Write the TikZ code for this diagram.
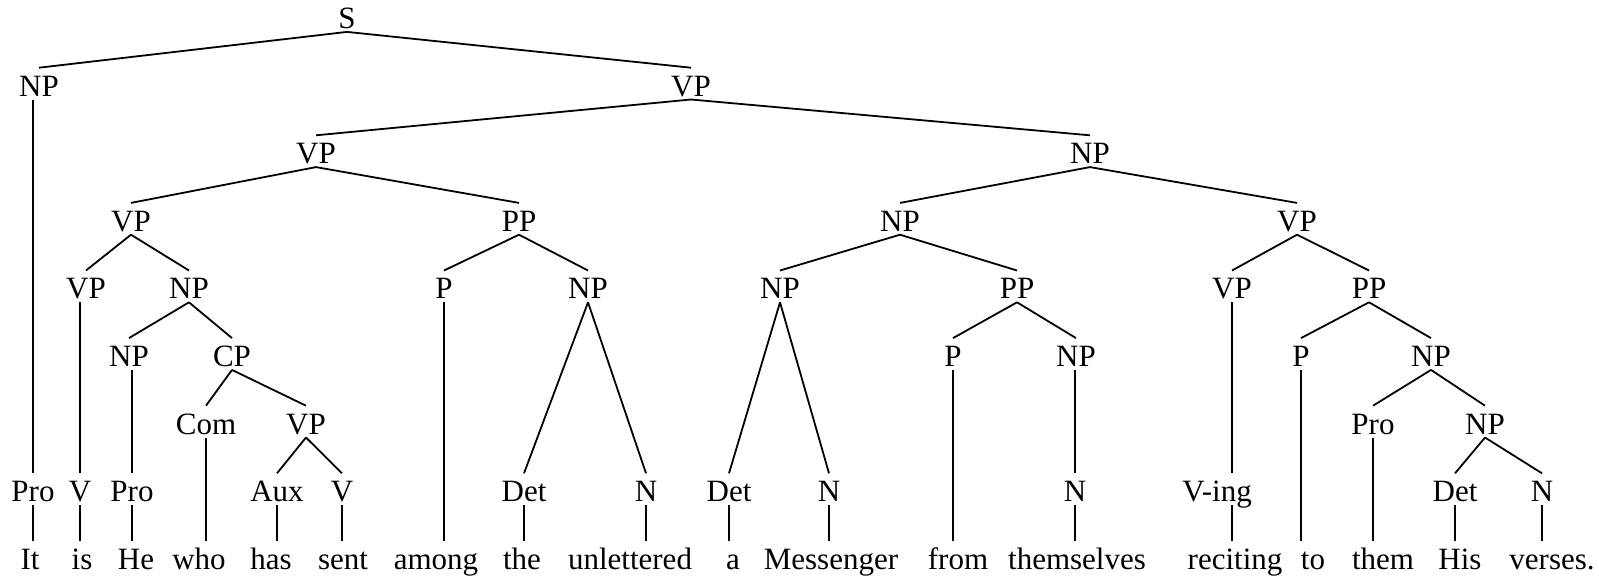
\documentclass[tikz,border=0pt]{standalone}
\usepackage{fontspec}
\setmainfont{Liberation Serif}
\begin{document}
\begin{tikzpicture}[x=0.5pt,y=-0.5pt,
  lab/.style={font=\fontsize{15.5}{18}\selectfont, inner sep=0pt, text height=14pt, text depth=1.5pt, anchor=base},
  br/.style={line width=0.9pt}]
\useasboundingbox (0,0) rectangle (1599,579);
% level 0-6
\node[lab] (s) at (347,28.5) {S};
\node[lab] (np1) at (39,96.1) {NP};
\node[lab] (vp1) at (691,96.1) {VP};
\node[lab] (vp2) at (316,163.7) {VP};
\node[lab] (np2) at (1090,163.7) {NP};
\node[lab] (vp3) at (131,231.3) {VP};
\node[lab] (pp3) at (519,231.3) {PP};
\node[lab] (np3) at (900,231.3) {NP};
\node[lab] (vp3r) at (1297,231.3) {VP};
\node[lab] (vp4) at (86,298.9) {VP};
\node[lab] (np4) at (189,298.9) {NP};
\node[lab] (p4) at (444,298.9) {P};
\node[lab] (np4b) at (588,298.9) {NP};
\node[lab] (np4c) at (780,298.9) {NP};
\node[lab] (pp4) at (1017,298.9) {PP};
\node[lab] (vp4r) at (1232,298.9) {VP};
\node[lab] (pp4r) at (1369,298.9) {PP};
\node[lab] (np5) at (129,366.5) {NP};
\node[lab] (cp5) at (232,366.5) {CP};
\node[lab] (p5) at (953,366.5) {P};
\node[lab] (np5b) at (1076,366.5) {NP};
\node[lab] (p5r) at (1301,366.5) {P};
\node[lab] (np5r) at (1431,366.5) {NP};
\node[lab] (com6) at (206,434.1) {Com};
\node[lab] (vp6) at (306,434.1) {VP};
\node[lab] (pro6) at (1373,434.1) {Pro};
\node[lab] (np6) at (1485,434.1) {NP};
% level 7
\node[lab] (pro7a) at (33,501.7) {Pro};
\node[lab] (v7a) at (80,501.7) {V};
\node[lab] (pro7b) at (132,501.7) {Pro};
\node[lab] (aux7) at (277,501.7) {Aux};
\node[lab] (v7b) at (342,501.7) {V};
\node[lab] (det7a) at (524,501.7) {Det};
\node[lab] (n7a) at (646,501.7) {N};
\node[lab] (det7b) at (729,501.7) {Det};
\node[lab] (n7b) at (829,501.7) {N};
\node[lab] (n7c) at (1075,501.7) {N};
\node[lab] (ving7) at (1217,501.7) {V-ing};
\node[lab] (det7c) at (1455,501.7) {Det};
\node[lab] (n7d) at (1542,501.7) {N};
% words
\node[lab] (w1) at (30,569.3) {It};
\node[lab] (w2) at (82,569.3) {is};
\node[lab] (w3) at (136,569.3) {He};
\node[lab] (w4) at (199,569.3) {who};
\node[lab] (w5) at (271,569.3) {has};
\node[lab] (w6) at (343,569.3) {sent};
\node[lab] (w7) at (436,569.3) {among};
\node[lab] (w8) at (522,569.3) {the};
\node[lab] (w9) at (630,569.3) {unlettered};
\node[lab] (w10) at (733,569.3) {a};
\node[lab] (w11) at (831,569.3) {Messenger};
\node[lab] (w12) at (958,569.3) {from};
\node[lab] (w13) at (1077,569.3) {themselves};
\node[lab] (w14) at (1235,569.3) {reciting};
\node[lab] (w15) at (1313,569.3) {to};
\node[lab] (w16) at (1383,569.3) {them};
\node[lab] (w17) at (1460,569.3) {His};
\node[lab] (w18) at (1552,569.3) {verses.};
% branching edges
\foreach \a/\b in {s/np1, s/vp1, vp1/vp2, vp1/np2, vp2/vp3, vp2/pp3, np2/np3, np2/vp3r,
  vp3/vp4, vp3/np4, pp3/p4, pp3/np4b, np3/np4c, np3/pp4, vp3r/vp4r, vp3r/pp4r,
  np4/np5, np4/cp5, np4b/det7a, np4b/n7a, np4c/det7b, np4c/n7b, pp4/p5, pp4/np5b,
  pp4r/p5r, pp4r/np5r, cp5/com6, cp5/vp6, np5r/pro6, np5r/np6, vp6/aux7, vp6/v7b,
  np6/det7c, np6/n7d}
  \draw[br] (\a.south) -- (\b.north);
% unary edges (vertical, at child x)
\foreach \a/\b in {np1/pro7a, vp4/v7a, np5/pro7b, np5b/n7c}
  \draw[br] (\b.north |- \a.south) -- (\b.north);
\draw[br] (vp4r.south) -- (vp4r.south |- ving7.north);
% preterminal to word
\foreach \a/\b in {pro7a/w1, v7a/w2, pro7b/w3, com6/w4, aux7/w5, v7b/w6, p4/w7, det7a/w8,
  n7a/w9, det7b/w10, n7b/w11, p5/w12, n7c/w13, p5r/w15, pro6/w16, det7c/w17, n7d/w18}
  \draw[br] (\a.south) -- (\a.south |- \b.north);
\draw[br] (vp4r.south |- ving7.south) -- (vp4r.south |- w14.north);
\end{tikzpicture}
\end{document}
